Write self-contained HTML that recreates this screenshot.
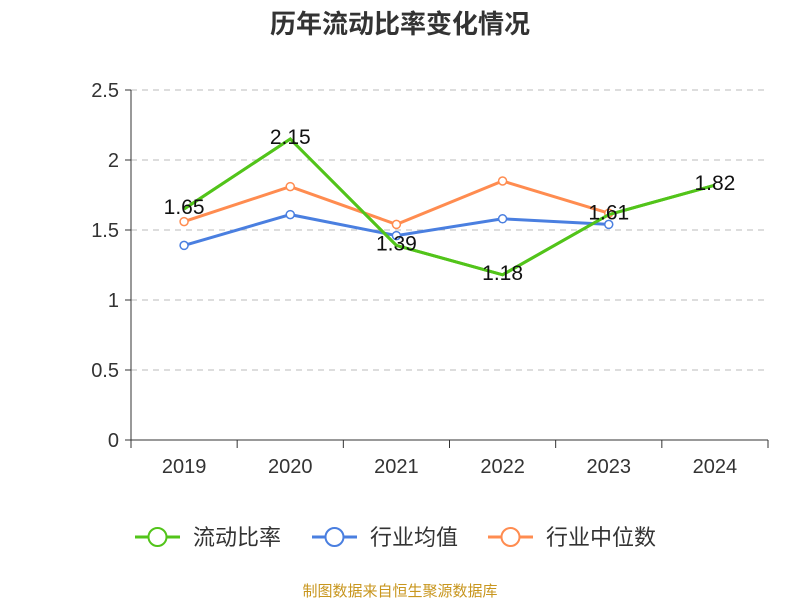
<!DOCTYPE html>
<html><head><meta charset="utf-8"><style>
body{margin:0;background:#fff;font-family:"Liberation Sans","Noto Sans CJK SC",sans-serif}
</style></head><body>
<svg id="chart" width="800" height="600" xmlns="http://www.w3.org/2000/svg" font-family="Liberation Sans, Noto Sans CJK SC, sans-serif">
<text x="400" y="33" text-anchor="middle" font-size="26" font-weight="bold" fill="#333">历年流动比率变化情况</text>
<g id="grid"></g><g id="axes"></g><g id="series"></g><g id="legend"></g>
<text x="400" y="596" text-anchor="middle" font-size="15" fill="#c8961e">制图数据来自恒生聚源数据库</text>
</svg>
<script>
const categories=["2019","2020","2021","2022","2023","2024"];
const ratio=[1.65,2.15,1.39,1.18,1.61,1.82];
const industryAvg=[1.39,1.61,1.46,1.58,1.54,null];
const industryMedian=[1.56,1.81,1.54,1.85,1.62,null];
const yTicks=[0,0.5,1,1.5,2,2.5];
const NS="http://www.w3.org/2000/svg";
const x0=131,x1=768,yb=440,yt=90,ymax=2.5;
const bw=(x1-x0)/categories.length;
const xs=i=>x0+bw*(i+0.5);
const ys=v=>yb-(v/ymax)*(yb-yt);
function mk(tag,attrs,parent,text){const e=document.createElementNS(NS,tag);for(const k in attrs)e.setAttribute(k,attrs[k]);if(text!==undefined)e.textContent=text;document.getElementById(parent).appendChild(e);return e;}
yTicks.forEach(t=>{
  if(t>0){const g=mk('line',{x1:x0,x2:x1,y1:ys(t),y2:ys(t),stroke:'#bbb','stroke-dasharray':'6,5'},'grid');
  
  }
  const l=mk('text',{x:x0-12,y:ys(t)+7,'text-anchor':'end','font-size':20,fill:'#333'},'axes',String(t));
  
  
  const tk=mk('line',{x1:x0-6,x2:x0,y1:ys(t),y2:ys(t),stroke:'#333'},'axes');
  
  
});
const ya=mk('line',{x1:x0,x2:x0,y1:yt,y2:yb,stroke:'#333'},'axes');


const xa=mk('line',{x1:x0,x2:x1,y1:yb,y2:yb,stroke:'#333'},'axes');


for(let i=0;i<=categories.length;i++){const tk=mk('line',{x1:x0+bw*i,x2:x0+bw*i,y1:yb,y2:yb+8,stroke:'#333'},'axes');

}
categories.forEach((c,i)=>{const t=mk('text',{x:xs(i),y:yb+33,'text-anchor':'middle','font-size':20,fill:'#333'},'axes',c);

});
function series(data,color,name,labels,markers){
  const pts=[];data.forEach((v,i)=>{if(v!==null)pts.push([xs(i),ys(v),v]);});
  const p=mk('polyline',{points:pts.map(p=>p[0]+','+p[1]).join(' '),fill:'none',stroke:color,'stroke-width':3},'series');
  
  
  if(markers)pts.forEach(pt=>{const c=mk('circle',{cx:pt[0],cy:pt[1],r:4,fill:'#fff',stroke:color,'stroke-width':1.5},'series');
  
  });
  if(labels)pts.forEach(pt=>{const t=mk('text',{x:pt[0],y:pt[1]+5,'text-anchor':'middle','font-size':21,fill:'#111'},'series',pt[2].toFixed(2));
  
  });
}
series(ratio,'#52c41a','ratio',false,false);
series(industryAvg,'#4a7fe0','industry-avg',false,true);
series(industryMedian,'#ff8c50','industry-median',false,true);
series(ratio,'#52c41a','ratio',true,false);
const leg=[["流动比率","#52c41a",135],["行业均值","#4a7fe0",312],["行业中位数","#ff8c50",488]];
leg.forEach(l=>{
  const ln=mk('line',{x1:l[2],x2:l[2]+45,y1:537,y2:537,stroke:l[1],'stroke-width':3},'legend');
  
  
  const c=mk('circle',{cx:l[2]+22.5,cy:537,r:9,fill:'#fff',stroke:l[1],'stroke-width':2},'legend');
  
  
  const t=mk('text',{x:l[2]+58,y:545,'font-size':22,fill:'#333'},'legend',l[0]);
  
  
});
</script>
</body></html>
